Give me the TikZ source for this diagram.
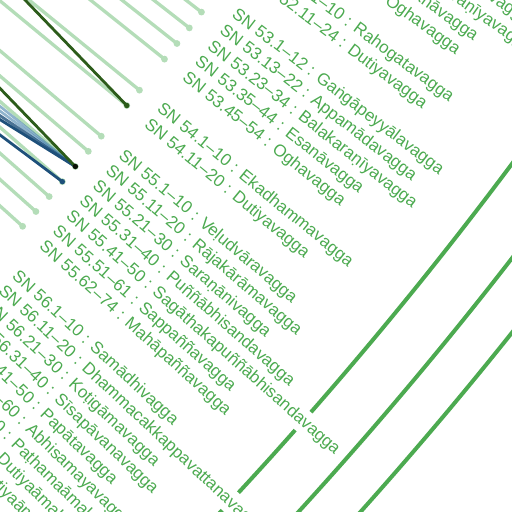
\documentclass[tikz,border=0pt]{standalone}
\usepackage{fontspec}
\setmainfont{Liberation Sans}
\usetikzlibrary{calc}
\definecolor{txtgreen}{RGB}{76,170,80}
\definecolor{lightgreen}{RGB}{180,221,184}
\definecolor{darkgreen}{RGB}{44,92,26}
\definecolor{linkblue}{RGB}{30,80,122}
\definecolor{bandblue}{RGB}{70,130,172}
\begin{document}
\begin{tikzpicture}[x=1pt,y=-1pt,
  leaflabel/.style={anchor=base west, inner sep=0pt, text=txtgreen, font=\fontsize{17}{20}\selectfont},
  leafline/.style={draw=lightgreen, line width=3.3pt},
  leafdot/.style={fill=lightgreen},
  grouparc/.style={draw=txtgreen, line width=4pt},
  greenlink/.style={draw=darkgreen, line width=2.8pt},
  bluelink/.style={draw=linkblue, line width=2.8pt},
  bandlink/.style={draw=bandblue, line width=2.6pt, opacity=0.6},
]
\useasboundingbox (0,0) rectangle (512,512);
\clip (0,0) rectangle (512,512);
\coordinate (C) at (-2720,-2245);
% group arcs
\draw[grouparc] ($(C)+(30:4031)$) arc[start angle=30, end angle=41.24, radius=4031];
\draw[grouparc] ($(C)+(41.58:4031)$) arc[start angle=41.58, end angle=42.78, radius=4031];
\draw[grouparc] ($(C)+(43.12:4031)$) arc[start angle=43.12, end angle=50, radius=4031];
\draw[grouparc] ($(C)+(30:4088)$) arc[start angle=30, end angle=50, radius=4088];
\draw[grouparc] ($(C)+(30:4134)$) arc[start angle=30, end angle=50, radius=4134];
% leaf lines and dots
\foreach \i in {4,5,6,7,9,10,12,13,14,15,16,18,19,21,22,23,24,25,26,27,29,30,31,32,33,34,35,36,37} {
  \pgfmathsetmacro\ang{33.6672+\i*0.3094}
  \draw[leafline] ($(C)+(\ang:3300)$) -- ($(C)+(\ang:3692)$) coordinate (d\i);
  \fill[leafdot] (d\i) circle (3.4);
}
% highlighted links
\coordinate (eA) at (-26,-53);
\coordinate (eB) at (-38,49);
\coordinate (eC) at (-32,111);
\coordinate (b1) at (-38,76);
\coordinate (b2) at (-38,83);
\coordinate (b3) at (-38,90);
\coordinate (b4) at (-38,96);
\draw[bandlink] (b1) -- (d23);
\draw[bandlink] (b2) -- (d23);
\draw[bluelink, opacity=0.8] (b3) -- (d23);
\draw[bluelink] (b4) -- (d23);
\draw[bluelink] (eC) -- (d24);
\draw[greenlink] (eA) -- (d19);
\draw[greenlink] (eB) -- (d23);
\fill[darkgreen] (d19) circle (2.7);
\fill[black!80!darkgreen] (d23) circle (2.7);
\fill[linkblue] (d24) circle (2.7);
% labels
\foreach \i/\t in {
  4/{SN 51.45–54 : Appamādavagga},
  5/{SN 51.55–66 : Balakaraṇīyavagga},
  6/{SN 51.67–76 : Esanāvagga},
  7/{SN 51.77–86 : Oghavagga},
  9/{SN 52.1–10 : Rahogatavagga},
  10/{SN 52.11–24 : Dutiyavagga},
  12/{SN 53.1–12 : Gaṅgāpeyyālavagga},
  13/{SN 53.13–22 : Appamādavagga},
  14/{SN 53.23–34 : Balakaraṇīyavagga},
  15/{SN 53.35–44 : Esanāvagga},
  16/{SN 53.45–54 : Oghavagga},
  18/{SN 54.1–10 : Ekadhammavagga},
  19/{SN 54.11–20 : Dutiyavagga},
  21/{SN 55.1–10 : Veḷudvāravagga},
  22/{SN 55.11–20 : Rājakārāmavagga},
  23/{SN 55.21–30 : Saraṇānivagga},
  24/{SN 55.31–40 : Puññābhisandavagga},
  25/{SN 55.41–50 : Sagāthakapuññābhisandavagga},
  26/{SN 55.51–61 : Sappaññavagga},
  27/{SN 55.62–74 : Mahāpaññavagga},
  29/{SN 56.1–10 : Samādhivagga},
  30/{SN 56.11–20 : Dhammacakkappavattanavagga},
  31/{SN 56.21–30 : Koṭigāmavagga},
  32/{SN 56.31–40 : Sīsapāvanavagga},
  33/{SN 56.41–50 : Papātavagga},
  34/{SN 56.51–60 : Abhisamayavagga},
  35/{SN 56.61–70 : Paṭhamaāmakadhaññapeyyālavagga},
  36/{SN 56.71–80 : Dutiyaāmakadhaññapeyyālavagga},
  37/{SN 56.81–90 : Tatiyaāmakadhaññapeyyālavagga}} {
  \pgfmathsetmacro\ang{33.6672+\i*0.3094}
  \pgfmathsetmacro\angp{\ang+90}
  \node[leaflabel, rotate=-\ang] (l\i) at ($(C)+(\ang:3718)+(\angp:5.27)$) {\t};
}
\end{tikzpicture}
\end{document}
